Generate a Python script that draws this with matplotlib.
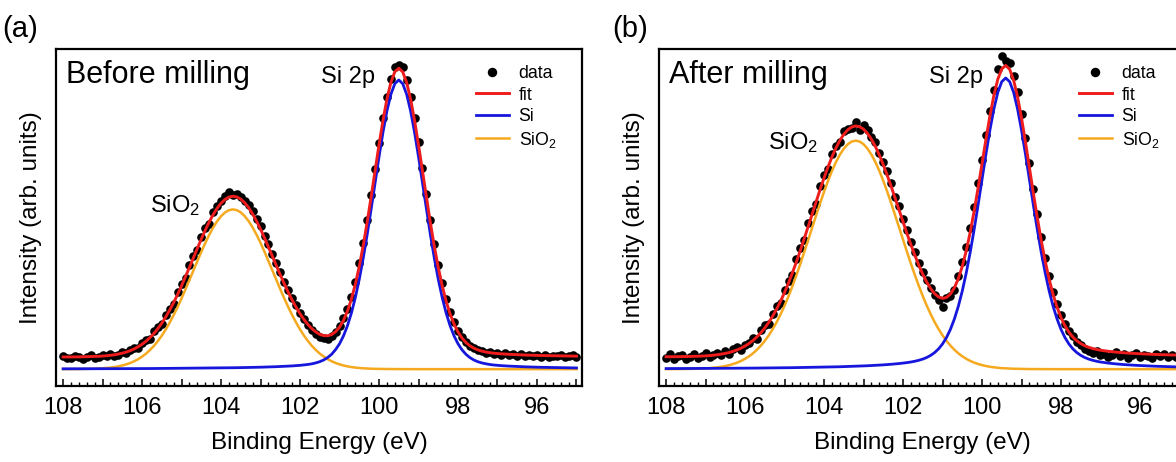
import numpy as np
import matplotlib
matplotlib.use("Agg")
import matplotlib.pyplot as plt
from matplotlib.ticker import MultipleLocator, FuncFormatter

plt.rcParams['font.family'] = ['Liberation Sans', 'DejaVu Sans']
plt.rcParams['mathtext.fontset'] = 'custom'
plt.rcParams['mathtext.rm'] = 'Liberation Sans'
plt.rcParams['mathtext.default'] = 'regular'

# ---------------- data ----------------
energy = np.round(np.linspace(108.0, 95.0, 131), 1)   # binding energy grid (eV), 0.1 eV step

# panel (a) before milling
data_a = [8.9, 8.4, 8.2, 8.8, 8.5, 8.0, 8.6, 9.1, 8.4, 8.7, 9.3,
          8.8, 9.4, 8.9, 9.2, 10.1, 9.7, 10.8, 11.4, 11.2, 12.8,
          13.6, 14.0, 16.2, 17.5, 18.3, 21.2, 22.9, 24.4, 27.8, 30.4,
          32.0, 35.9, 38.6, 40.3, 44.2, 46.9, 48.2, 51.6, 53.5, 54.9,
          56.4, 57.6, 56.8, 57.1, 56.2, 55.0, 53.6, 51.9, 49.5, 47.4,
          44.5, 42.0, 39.2, 36.4, 33.7, 31.0, 28.5, 26.0, 23.9, 21.8,
          19.9, 18.0, 16.6, 15.5, 14.6, 14.2, 14.0, 14.8, 16.0, 17.9,
          20.1, 22.9, 26.5, 31.0, 36.4, 42.5, 49.4, 56.8, 64.5, 72.0,
          79.5, 85.8, 91.0, 94.8, 95.2, 94.6, 90.8, 85.9, 79.6, 72.4,
          64.6, 56.9, 49.3, 42.2, 36.0, 30.5, 25.9, 22.0, 18.9, 16.4,
          14.5, 13.2, 12.0, 11.4, 10.6, 10.5, 9.9, 10.2, 9.6, 9.9,
          9.3, 9.7, 9.1, 9.5, 9.0, 9.4, 8.9, 9.3, 8.8, 9.2,
          8.7, 9.1, 8.6, 9.0, 8.8, 9.2, 8.6, 8.9, 9.1, 8.7]
fit_a = [8.61, 8.61, 8.62, 8.63, 8.64, 8.67, 8.69, 8.71, 8.75, 8.81, 8.88,
         8.98, 9.10, 9.26, 9.48, 9.74, 10.07, 10.49, 11.00, 11.63, 12.39,
         13.29, 14.36, 15.60, 17.04, 18.66, 20.50, 22.55, 24.77, 27.18, 29.75,
         32.45, 35.23, 38.06, 40.87, 43.62, 46.24, 48.67, 50.86, 52.73, 54.25,
         55.37, 56.06, 56.31, 56.10, 55.45, 54.36, 52.89, 51.05, 48.91, 46.52,
         43.94, 41.24, 38.48, 35.70, 32.98, 30.34, 27.84, 25.51, 23.37, 21.42,
         19.71, 18.23, 16.99, 16.04, 15.33, 14.95, 14.91, 15.26, 16.13, 17.45,
         19.46, 22.20, 25.76, 30.20, 35.52, 41.70, 48.63, 56.10, 63.86, 71.58,
         78.82, 85.13, 90.06, 93.24, 94.31, 93.22, 90.04, 85.10, 78.77, 71.51,
         63.77, 55.97, 48.45, 41.45, 35.18, 29.74, 25.14, 21.37, 18.37, 16.03,
         14.25, 12.92, 11.94, 11.23, 10.72, 10.36, 10.10, 9.89, 9.74, 9.63,
         9.54, 9.46, 9.40, 9.34, 9.28, 9.23, 9.19, 9.15, 9.11, 9.08,
         9.05, 9.03, 9.00, 8.98, 8.95, 8.94, 8.92, 8.90, 8.88, 8.86]
si_a = [5.10, 5.10, 5.11, 5.11, 5.11, 5.12, 5.12, 5.12, 5.12, 5.13, 5.13,
        5.14, 5.14, 5.14, 5.15, 5.15, 5.15, 5.16, 5.16, 5.17, 5.17,
        5.18, 5.18, 5.19, 5.20, 5.20, 5.21, 5.22, 5.22, 5.23, 5.24,
        5.25, 5.26, 5.27, 5.28, 5.29, 5.30, 5.31, 5.33, 5.34, 5.36,
        5.37, 5.39, 5.41, 5.43, 5.45, 5.47, 5.50, 5.52, 5.55, 5.58,
        5.61, 5.65, 5.69, 5.73, 5.78, 5.83, 5.89, 5.96, 6.04, 6.13,
        6.25, 6.39, 6.58, 6.86, 7.22, 7.73, 8.45, 9.42, 10.80, 12.53,
        14.87, 17.87, 21.64, 26.24, 31.68, 37.95, 44.95, 52.47, 60.27, 68.01,
        75.27, 81.60, 86.54, 89.72, 90.80, 89.72, 86.54, 81.60, 75.27, 68.01,
        60.27, 52.47, 44.95, 37.95, 31.68, 26.24, 21.64, 17.87, 14.87, 12.53,
        10.75, 9.42, 8.44, 7.73, 7.22, 6.86, 6.60, 6.39, 6.24, 6.13,
        6.04, 5.96, 5.90, 5.84, 5.78, 5.73, 5.69, 5.65, 5.61, 5.58,
        5.55, 5.53, 5.50, 5.48, 5.45, 5.44, 5.42, 5.40, 5.38, 5.36]
sio2_a = [5.01, 5.01, 5.01, 5.02, 5.03, 5.05, 5.07, 5.09, 5.13, 5.18, 5.25,
          5.34, 5.46, 5.62, 5.83, 6.09, 6.42, 6.83, 7.34, 7.96, 8.72,
          9.61, 10.68, 11.91, 13.34, 14.96, 16.79, 18.83, 21.05, 23.45, 26.01,
          28.70, 31.47, 34.29, 37.09, 39.83, 42.44, 44.86, 47.03, 48.89, 50.39,
          51.50, 52.17, 52.40, 52.17, 51.50, 50.39, 48.89, 47.03, 44.86, 42.44,
          39.83, 37.09, 34.29, 31.47, 28.70, 26.01, 23.45, 21.05, 18.83, 16.79,
          14.96, 13.34, 11.91, 10.68, 9.61, 8.72, 7.96, 7.34, 6.83, 6.42,
          6.09, 5.83, 5.62, 5.46, 5.34, 5.25, 5.18, 5.13, 5.09, 5.07,
          5.05, 5.03, 5.02, 5.02, 5.01, 5.01, 5.01, 5.00, 5.00, 5.00,
          5.00, 5.00, 5.00, 5.00, 5.00, 5.00, 5.00, 5.00, 5.00, 5.00,
          5.00, 5.00, 5.00, 5.00, 5.00, 5.00, 5.00, 5.00, 5.00, 5.00,
          5.00, 5.00, 5.00, 5.00, 5.00, 5.00, 5.00, 5.00, 5.00, 5.00,
          5.00, 5.00, 5.00, 5.00, 5.00, 5.00, 5.00, 5.00, 5.00, 5.00]

# panel (b) after milling
data_b = [8.3, 9.6, 8.1, 8.9, 9.2, 7.9, 8.6, 9.4, 8.2, 9.0, 9.7,
          8.5, 9.3, 9.9, 9.1, 10.4, 9.6, 10.9, 11.5, 10.8, 12.3,
          12.9, 14.2, 14.0, 16.5, 18.1, 18.4, 21.5, 23.6, 24.7, 28.5,
          31.2, 33.0, 37.6, 41.0, 43.2, 48.3, 51.9, 54.1, 59.2, 62.5,
          64.3, 68.9, 71.2, 72.3, 75.6, 76.2, 76.5, 78.4, 76.0, 77.3,
          76.1, 73.8, 72.4, 69.0, 66.5, 63.8, 60.3, 56.2, 53.5, 49.6,
          46.4, 42.6, 39.9, 36.5, 33.9, 31.6, 29.2, 27.0, 25.4, 23.4,
          26.1, 26.8, 28.4, 32.7, 36.8, 41.2, 46.9, 53.0, 60.1, 67.2,
          74.5, 81.6, 87.8, 94.2, 97.8, 96.4, 95.9, 92.0, 87.1, 80.6,
          73.5, 66.2, 58.4, 51.0, 44.3, 38.0, 32.6, 28.0, 24.2, 21.0,
          18.5, 16.4, 14.7, 13.2, 12.3, 11.0, 10.5, 9.8, 10.4, 9.1,
          9.6, 8.7, 9.3, 10.0, 8.8, 9.5, 8.4, 9.2, 9.9, 8.6,
          9.3, 8.9, 8.2, 9.6, 8.8, 9.4, 8.5, 9.1, 8.7, 9.3]
fit_b = [8.68, 8.68, 8.70, 8.70, 8.72, 8.74, 8.76, 8.79, 8.83, 8.88, 8.95,
         9.02, 9.14, 9.28, 9.46, 9.67, 9.95, 10.30, 10.72, 11.23, 11.86,
         12.61, 13.51, 14.57, 15.81, 17.24, 18.88, 20.76, 22.85, 25.20, 27.77,
         30.59, 33.62, 36.85, 40.25, 43.78, 47.41, 51.08, 54.73, 58.32, 61.76,
         65.00, 67.97, 70.61, 72.86, 74.68, 76.02, 76.86, 77.16, 76.95, 76.20,
         74.94, 73.22, 71.06, 68.52, 65.64, 62.51, 59.19, 55.73, 52.21, 48.69,
         45.23, 41.90, 38.74, 35.81, 33.15, 30.82, 28.89, 27.39, 26.41, 26.01,
         26.28, 27.29, 29.14, 31.85, 35.51, 40.11, 45.59, 51.86, 58.73, 65.96,
         73.24, 80.14, 86.23, 91.04, 94.10, 95.13, 93.97, 90.75, 85.78, 79.49,
         72.37, 64.80, 57.22, 49.93, 43.14, 37.04, 31.70, 27.15, 23.39, 20.31,
         17.88, 15.98, 14.52, 13.42, 12.59, 11.96, 11.49, 11.13, 10.85, 10.62,
         10.45, 10.29, 10.16, 10.05, 9.94, 9.85, 9.77, 9.70, 9.63, 9.57,
         9.51, 9.46, 9.41, 9.36, 9.32, 9.28, 9.25, 9.21, 9.18, 9.15]
si_b = [5.17, 5.17, 5.18, 5.18, 5.19, 5.19, 5.20, 5.20, 5.21, 5.21, 5.22,
        5.22, 5.23, 5.24, 5.25, 5.25, 5.26, 5.27, 5.28, 5.28, 5.29,
        5.30, 5.31, 5.32, 5.33, 5.34, 5.35, 5.37, 5.38, 5.40, 5.41,
        5.43, 5.44, 5.46, 5.47, 5.49, 5.51, 5.53, 5.55, 5.58, 5.60,
        5.63, 5.65, 5.68, 5.71, 5.75, 5.78, 5.82, 5.86, 5.91, 5.96,
        6.01, 6.07, 6.13, 6.20, 6.27, 6.35, 6.45, 6.55, 6.66, 6.79,
        6.94, 7.12, 7.35, 7.63, 7.99, 8.46, 9.09, 9.92, 11.02, 12.48,
        14.38, 16.81, 19.89, 23.65, 28.20, 33.54, 39.64, 46.42, 53.70, 61.27,
        68.82, 75.93, 82.19, 87.13, 90.30, 91.40, 90.30, 87.13, 82.19, 75.93,
        68.82, 61.27, 53.70, 46.42, 39.64, 33.54, 28.20, 23.65, 19.89, 16.81,
        14.38, 12.48, 11.02, 9.92, 9.09, 8.46, 7.99, 7.63, 7.35, 7.12,
        6.95, 6.79, 6.66, 6.55, 6.44, 6.35, 6.27, 6.20, 6.13, 6.07,
        6.01, 5.96, 5.91, 5.86, 5.82, 5.78, 5.75, 5.71, 5.68, 5.65]
sio2_b = [5.01, 5.01, 5.02, 5.02, 5.03, 5.05, 5.06, 5.09, 5.12, 5.17, 5.23,
          5.30, 5.41, 5.54, 5.71, 5.92, 6.19, 6.53, 6.94, 7.45, 8.07,
          8.81, 9.70, 10.75, 11.98, 13.40, 15.03, 16.89, 18.97, 21.30, 23.86,
          26.66, 29.68, 32.89, 36.28, 39.79, 43.40, 47.05, 50.68, 54.24, 57.66,
          60.87, 63.82, 66.43, 68.65, 70.43, 71.74, 72.54, 72.80, 72.54, 71.74,
          70.43, 68.65, 66.43, 63.82, 60.87, 57.66, 54.24, 50.68, 47.05, 43.40,
          39.79, 36.28, 32.89, 29.68, 26.66, 23.86, 21.30, 18.97, 16.89, 15.03,
          13.40, 11.98, 10.75, 9.70, 8.81, 8.07, 7.45, 6.94, 6.53, 6.19,
          5.92, 5.71, 5.54, 5.41, 5.30, 5.23, 5.17, 5.12, 5.09, 5.06,
          5.05, 5.03, 5.02, 5.01, 5.01, 5.00, 5.00, 5.00, 5.00, 5.00,
          5.00, 5.00, 5.00, 5.00, 5.00, 5.00, 5.00, 5.00, 5.00, 5.00,
          5.00, 5.00, 5.00, 5.00, 5.00, 5.00, 5.00, 5.00, 5.00, 5.00,
          5.00, 5.00, 5.00, 5.00, 5.00, 5.00, 5.00, 5.00, 5.00, 5.00]

panel_titles = ["Before milling", "After milling"]
panel_letters = ["(a)", "(b)"]
legend_labels = ["data", "fit", "Si", "SiO$_2$"]
# peak annotations: (x, y) positions in data units
si2p_pos = [(100.79, 91.8), (100.65, 91.8)]
sio2_pos = [(105.16, 53.6), (104.78, 72.3)]

RED = '#ee1c1c'
BLUE = '#1616dc'
ORANGE = '#f5a91e'

fig = plt.figure(figsize=(11.76, 4.62), dpi=100)
W, H = 1176.0, 462.0
ax_lefts = [56, 659]
axes = [fig.add_axes([l / W, (H - 386) / H, 526 / W, 337 / H]) for l in ax_lefts]

panels = [(data_a, fit_a, si_a, sio2_a), (data_b, fit_b, si_b, sio2_b)]

for i, ax in enumerate(axes):
    d, f, s, o = panels[i]
    ax.plot(energy, d, 'o', color='black', markersize=6.2, markeredgewidth=0,
            zorder=1, label=legend_labels[0])
    ax.plot(energy, f, '-', color=RED, lw=2.1, zorder=4, label=legend_labels[1])
    ax.plot(energy, s, '-', color=BLUE, lw=2.0, zorder=3, label=legend_labels[2])
    ax.plot(energy, o, '-', color=ORANGE, lw=1.8, zorder=2, label=legend_labels[3])

    ax.set_xlim(108.18, 94.86)
    ax.set_ylim(0, 100)
    ax.set_yticks([])
    ax.xaxis.set_major_locator(MultipleLocator(1))
    ax.xaxis.set_minor_locator(MultipleLocator(0.2))
    ax.xaxis.set_major_formatter(FuncFormatter(
        lambda v, p: f"{int(round(v))}" if int(round(v)) % 2 == 0 else ""))
    ax.tick_params(axis='x', which='major', direction='in', length=5.0, width=1.1,
                   labelsize=17, pad=8, top=False)
    ax.tick_params(axis='x', which='minor', direction='in', length=2.6, width=1.0,
                   top=False)
    for sp in ax.spines.values():
        sp.set_linewidth(1.6)

    ax.set_xlabel("Binding Energy (eV)", fontsize=17.5, labelpad=9)
    ax.set_ylabel("Intensity (arb. units)", fontsize=17.5, labelpad=10)

    ax.text(0.019, 0.923, panel_titles[i], transform=ax.transAxes, fontsize=22,
            ha='left', va='center')
    ax.text(si2p_pos[i][0], si2p_pos[i][1], "Si 2p", fontsize=17, ha='center', va='center')
    ax.text(sio2_pos[i][0], sio2_pos[i][1], "SiO$_2$", fontsize=17, ha='center', va='center')

    leg = ax.legend(loc='upper left', bbox_to_anchor=(0.7985, 0.952), frameon=False,
                    fontsize=12.8, handlelength=1.85, handletextpad=0.55,
                    labelspacing=0.25, borderpad=0, borderaxespad=0, markerscale=1.1)

fig.text(2 / W, 1 - 29 / H, panel_letters[0], fontsize=21, ha='left', va='center')
fig.text(612 / W, 1 - 29 / H, panel_letters[1], fontsize=21, ha='left', va='center')

fig.savefig("out.png", dpi=100)
